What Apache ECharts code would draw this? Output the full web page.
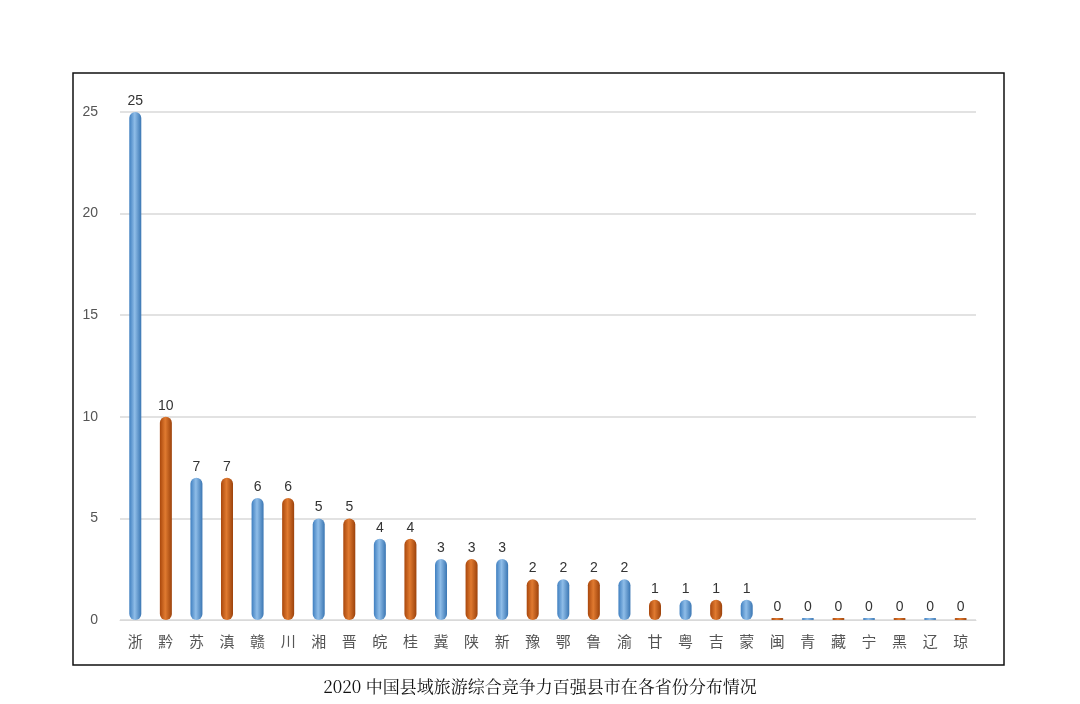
<!DOCTYPE html>
<html><head><meta charset="utf-8">
<script src="https://cdn.jsdelivr.net/npm/echarts@6/dist/echarts.min.js"></script>
<style>html,body{margin:0;background:#fff}#c{width:1080px;height:704px}</style>
</head><body><div id="c"></div>
<script>
const provinces = ['浙','黔','苏','滇','赣','川','湘','晋','皖','桂','冀','陕','新','豫','鄂','鲁','渝','甘','粤','吉','蒙','闽','青','藏','宁','黑','辽','琼'];
const counts = [25,10,7,7,6,6,5,5,4,4,3,3,3,2,2,2,2,1,1,1,1,0,0,0,0,0,0,0];
const yTicks = [0,5,10,15,20,25];

const blue = new echarts.graphic.LinearGradient(0,0,1,0,[{offset:0,color:'#3f7fc0'},{offset:0.45,color:'#8fbde8'},{offset:1,color:'#3a76b3'}]);
const orange = new echarts.graphic.LinearGradient(0,0,1,0,[{offset:0,color:'#a9470c'},{offset:0.45,color:'#e07a30'},{offset:1,color:'#9c420b'}]);

const chart = echarts.init(document.getElementById('c'));
chart.setOption({
  animation:false,
  grid:{left:120,right:104,top:112,bottom:84},
  graphic:[
    {type:'rect',shape:{x:73,y:73,width:931,height:592},style:{fill:'none',stroke:'#111',lineWidth:1.5}},
    {type:'text',left:'center',top:678,style:{text:'2020 中国县域旅游综合竞争力百强县市在各省份分布情况',font:'17px "Noto Serif CJK SC","Noto Sans CJK SC",serif',fill:'#111'}}
  ],
  xAxis:{type:'category',data:provinces,axisTick:{show:false},
    axisLine:{lineStyle:{color:'#d9d9d9'}},
    axisLabel:{color:'#555',fontSize:15,margin:14,fontFamily:'Noto Sans CJK SC'}},
  yAxis:{type:'value',min:yTicks[0],max:yTicks[yTicks.length-1],interval:5,
    axisLine:{show:false},axisTick:{show:false},
    splitLine:{lineStyle:{color:'#d9d9d9',width:1.5}},
    axisLabel:{color:'#555',fontSize:14,margin:22}},
  series:[{type:'bar',barWidth:12,barMinHeight:2,
    data:counts.map((v,i)=>({value:v,itemStyle:{color:i%2===0?blue:orange,borderRadius:[6,6,6,6]}})),
    label:{show:true,position:'top',color:'#333',fontSize:14,distance:4}}]
});
</script></body></html>
